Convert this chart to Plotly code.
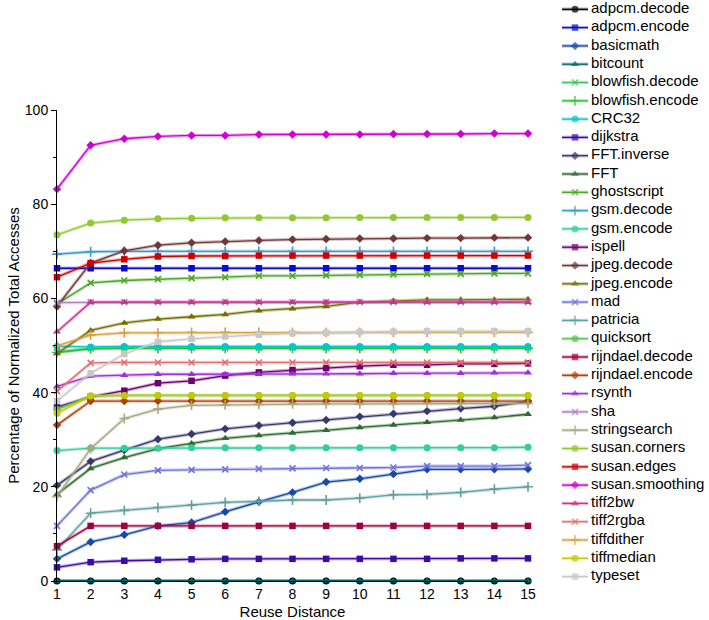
import plotly.graph_objects as go

reuse_distance = [1, 2, 3, 4, 5, 6, 7, 8, 9, 10, 11, 12, 13, 14, 15]
y_ticks = [0, 20, 40, 60, 80, 100]

adpcm_decode = [0, 0, 0, 0, 0, 0, 0, 0, 0, 0, 0, 0, 0, 0, 0]
adpcm_encode = [66.4, 66.4, 66.4, 66.4, 66.4, 66.4, 66.4, 66.4, 66.4, 66.4, 66.4, 66.4, 66.4, 66.4, 66.4]
basicmath = [4.7, 8.3, 9.8, 11.7, 12.4, 14.7, 16.8, 18.8, 21.0, 21.7, 22.7, 23.7, 23.7, 23.7, 23.8]
bitcount = [0, 0, 0, 0, 0, 0, 0, 0, 0, 0, 0, 0, 0, 0, 0]
blowfish_decode = [48.6, 49.4, 49.5, 49.5, 49.5, 49.5, 49.5, 49.5, 49.5, 49.5, 49.5, 49.5, 49.5, 49.5, 49.5]
blowfish_encode = [48.5, 49.3, 49.4, 49.4, 49.4, 49.4, 49.4, 49.4, 49.4, 49.4, 49.4, 49.4, 49.4, 49.4, 49.4]
crc32 = [49.8, 49.7, 49.8, 49.8, 49.8, 49.8, 49.8, 49.8, 49.8, 49.8, 49.8, 49.8, 49.8, 49.8, 49.8]
dijkstra = [2.9, 4.0, 4.3, 4.5, 4.6, 4.7, 4.7, 4.7, 4.7, 4.7, 4.7, 4.7, 4.8, 4.8, 4.8]
fft_inverse = [20.3, 25.4, 27.8, 30.1, 31.2, 32.3, 33.0, 33.6, 34.2, 34.9, 35.5, 36.1, 36.6, 37.1, 38.1]
fft = [18.4, 23.9, 26.2, 28.1, 29.2, 30.3, 30.9, 31.4, 32.0, 32.6, 33.1, 33.7, 34.2, 34.7, 35.4]
ghostscript = [58.8, 63.3, 63.8, 64.1, 64.3, 64.5, 64.8, 64.8, 64.9, 65.0, 65.1, 65.2, 65.2, 65.3, 65.3]
gsm_decode = [69.4, 69.9, 70.0, 70.0, 70.0, 70.0, 70.0, 70.0, 70.0, 70.0, 70.0, 70.0, 70.0, 70.0, 70.0]
gsm_encode = [27.7, 28.2, 28.2, 28.2, 28.3, 28.3, 28.3, 28.3, 28.3, 28.3, 28.3, 28.3, 28.3, 28.3, 28.4]
ispell = [36.9, 39.1, 40.4, 42.0, 42.5, 43.6, 44.3, 44.8, 45.2, 45.6, 45.9, 45.9, 46.1, 46.1, 46.2]
jpeg_decode = [58.3, 67.5, 70.1, 71.3, 71.8, 72.1, 72.3, 72.5, 72.6, 72.7, 72.7, 72.8, 72.8, 72.9, 72.9]
jpeg_encode = [48.3, 53.2, 54.8, 55.6, 56.1, 56.6, 57.4, 57.8, 58.3, 59.2, 59.5, 59.7, 59.7, 59.7, 59.8]
mad = [11.7, 19.3, 22.6, 23.5, 23.6, 23.7, 23.8, 23.9, 24.0, 24.0, 24.1, 24.4, 24.4, 24.4, 24.6]
patricia = [6.6, 14.4, 15.0, 15.6, 16.1, 16.7, 16.9, 17.2, 17.2, 17.6, 18.3, 18.4, 18.8, 19.5, 20.0]
quicksort = [36.4, 39.3, 39.4, 39.4, 39.4, 39.4, 39.4, 39.4, 39.4, 39.4, 39.4, 39.4, 39.4, 39.4, 39.4]
rijndael_decode = [7.4, 11.7, 11.7, 11.7, 11.7, 11.7, 11.7, 11.7, 11.7, 11.7, 11.7, 11.7, 11.7, 11.7, 11.7]
rijndael_encode = [33.1, 38.2, 38.2, 38.2, 38.2, 38.2, 38.2, 38.2, 38.2, 38.2, 38.2, 38.2, 38.2, 38.2, 38.2]
rsynth = [41.3, 43.5, 43.7, 43.9, 43.9, 43.9, 43.9, 44.0, 44.0, 44.0, 44.1, 44.1, 44.1, 44.2, 44.2]
sha = [59.1, 59.2, 59.2, 59.2, 59.2, 59.2, 59.2, 59.2, 59.2, 59.2, 59.2, 59.2, 59.2, 59.2, 59.2]
stringsearch = [17.9, 28.1, 34.5, 36.5, 37.3, 37.4, 37.5, 37.6, 37.6, 37.6, 37.6, 37.7, 37.7, 37.7, 37.7]
susan_corners = [73.5, 76.0, 76.6, 76.9, 77.0, 77.1, 77.1, 77.1, 77.1, 77.2, 77.2, 77.2, 77.2, 77.2, 77.2]
susan_edges = [64.5, 67.5, 68.3, 68.9, 69.0, 69.0, 69.1, 69.1, 69.1, 69.1, 69.1, 69.1, 69.1, 69.1, 69.1]
susan_smoothing = [83.2, 92.5, 93.9, 94.4, 94.6, 94.6, 94.8, 94.8, 94.8, 94.8, 94.9, 94.9, 94.9, 95.0, 95.0]
tiff2bw = [52.9, 59.2, 59.2, 59.2, 59.2, 59.2, 59.2, 59.2, 59.2, 59.2, 59.2, 59.2, 59.2, 59.2, 59.2]
tiff2rgba = [40.3, 46.3, 46.4, 46.4, 46.4, 46.4, 46.4, 46.4, 46.4, 46.4, 46.4, 46.4, 46.4, 46.4, 46.4]
tiffdither = [49.9, 52.2, 52.7, 52.7, 52.8, 52.8, 52.8, 52.8, 52.8, 52.8, 52.8, 52.8, 52.8, 52.8, 52.8]
tiffmedian = [35.6, 39.3, 39.4, 39.4, 39.4, 39.4, 39.4, 39.4, 39.4, 39.4, 39.4, 39.4, 39.4, 39.4, 39.4]
typeset = [38.2, 44.1, 48.2, 50.8, 51.4, 51.9, 52.3, 52.6, 52.7, 52.9, 52.9, 53.0, 53.0, 53.0, 53.0]

series_names = ["adpcm.decode", "adpcm.encode", "basicmath", "bitcount", "blowfish.decode",
                "blowfish.encode", "CRC32", "dijkstra", "FFT.inverse", "FFT", "ghostscript",
                "gsm.decode", "gsm.encode", "ispell", "jpeg.decode", "jpeg.encode", "mad",
                "patricia", "quicksort", "rijndael.decode", "rijndael.encode", "rsynth", "sha",
                "stringsearch", "susan.corners", "susan.edges", "susan.smoothing", "tiff2bw",
                "tiff2rgba", "tiffdither", "tiffmedian", "typeset"]
series_values = [adpcm_decode, adpcm_encode, basicmath, bitcount, blowfish_decode,
                 blowfish_encode, crc32, dijkstra, fft_inverse, fft, ghostscript,
                 gsm_decode, gsm_encode, ispell, jpeg_decode, jpeg_encode, mad,
                 patricia, quicksort, rijndael_decode, rijndael_encode, rsynth, sha,
                 stringsearch, susan_corners, susan_edges, susan_smoothing, tiff2bw,
                 tiff2rgba, tiffdither, tiffmedian, typeset]

colors = ["#000000", "#0a0ad0", "#1848a8", "#006868", "#40c060",
          "#30c030", "#00c8c8", "#3c0aa8", "#383870", "#2e6a2e", "#48a820",
          "#3898d0", "#30d098", "#700070", "#703838", "#707000", "#7070e0",
          "#60a0a0", "#50c850", "#a00040", "#b04000", "#a030d8", "#b080c0",
          "#a8a880", "#90c830", "#d00000", "#d000d0", "#d03090",
          "#e07070", "#d8a040", "#c8c800", "#c8c8c8"]
symbols = ["circle", "square", "diamond", "triangle-up", "x-thin",
           "cross-thin", "circle", "square", "diamond", "triangle-up", "x-thin",
           "cross-thin", "circle", "square", "diamond", "triangle-up", "x-thin",
           "cross-thin", "circle", "square", "diamond", "triangle-up", "x-thin",
           "cross-thin", "circle", "square", "diamond", "triangle-up",
           "x-thin", "cross-thin", "circle", "square"]
marker_sizes = {"circle": 7, "square": 6.5, "diamond": 6.5, "triangle-up": 7,
                "x-thin": 6, "cross-thin": 7}

FONT = "Liberation Sans, Arial, sans-serif"
W, H = 709, 620
# plot area in pixels (layout)
PL, PR, PT, PB = 57, 528, 110, 581
# legend geometry (layout, px)
LEG_X0 = 557
LEG_ROW0, LEG_ROW_STEP = 9.3, 18.3

fig = go.Figure()
for name, vals, col, sym in zip(series_names, series_values, colors, symbols):
    thin = sym.endswith("-thin")
    size = marker_sizes[sym]
    fig.add_trace(go.Scatter(
        x=reuse_distance, y=vals, mode="lines", showlegend=False, hoverinfo="skip",
        line=dict(color=col, width=3.5), opacity=0.3, cliponaxis=False))
    fig.add_trace(go.Scatter(
        x=reuse_distance, y=vals, mode="lines+markers", name=name, showlegend=False,
        line=dict(color=col, width=1.3),
        marker=dict(symbol=sym, size=size, color=col,
                    line=dict(color=col, width=1.6 if thin else 0)),
        cliponaxis=False))

# custom legend drawn on a hidden pixel-scaled axis pair
rows = [LEG_ROW0 + LEG_ROW_STEP * i for i in range(len(series_names))]
for i, (name, col, sym) in enumerate(zip(series_names, colors, symbols)):
    thin = sym.endswith("-thin")
    size = marker_sizes[sym]
    fig.add_trace(go.Scatter(
        x=[5, 31], y=[rows[i], rows[i]], mode="lines", xaxis="x2", yaxis="y2",
        showlegend=False, hoverinfo="skip", line=dict(color=col, width=3.5),
        opacity=0.3, cliponaxis=False))
    fig.add_trace(go.Scatter(
        x=[5, 18, 31], y=[rows[i]] * 3, mode="lines+markers", xaxis="x2", yaxis="y2",
        showlegend=False, hoverinfo="skip", line=dict(color=col, width=1.3),
        marker=dict(symbol=sym, size=[0, size, 0], color=col,
                    line=dict(color=col, width=1.6 if thin else 0)),
        cliponaxis=False))
fig.add_trace(go.Scatter(
    x=[34] * len(series_names), y=rows, mode="text", text=series_names,
    textposition="middle right", textfont=dict(size=15, family=FONT, color="black"),
    xaxis="x2", yaxis="y2", showlegend=False, hoverinfo="skip", cliponaxis=False))

fig.update_layout(
    width=W, height=H,
    margin=dict(l=0, r=0, t=0, b=0, autoexpand=False),
    paper_bgcolor="white", plot_bgcolor="white",
    font=dict(family=FONT, size=14, color="black"),
    showlegend=False,
    xaxis=dict(domain=[PL / W, PR / W], range=[1, 15], tickvals=reuse_distance,
               showgrid=False, zeroline=False, automargin=False,
               showline=True, linecolor="black", linewidth=1, ticks="",
               tickfont=dict(size=14),
               title=dict(text="Reuse Distance", font=dict(size=15), standoff=7)),
    yaxis=dict(domain=[(H - PB) / H, (H - PT) / H], range=[0, 100], tickvals=y_ticks,
               showgrid=False, zeroline=False, automargin=False,
               showline=True, linecolor="black", linewidth=1, ticks="outside",
               ticklen=5, tickwidth=1, tickcolor="black",
               minor=dict(tickvals=[10, 30, 50, 70, 90], ticks="outside", ticklen=3,
                          tickcolor="black"),
               tickfont=dict(size=14),
               title=dict(text="Percentage of Normalized Total Accesses",
                          font=dict(size=15), standoff=1)),
    xaxis2=dict(domain=[LEG_X0 / W, 1], range=[0, W - LEG_X0], visible=False,
                automargin=False),
    yaxis2=dict(domain=[0, 1], range=[H, 0], visible=False, automargin=False),
)

fig.write_html("out.html")
